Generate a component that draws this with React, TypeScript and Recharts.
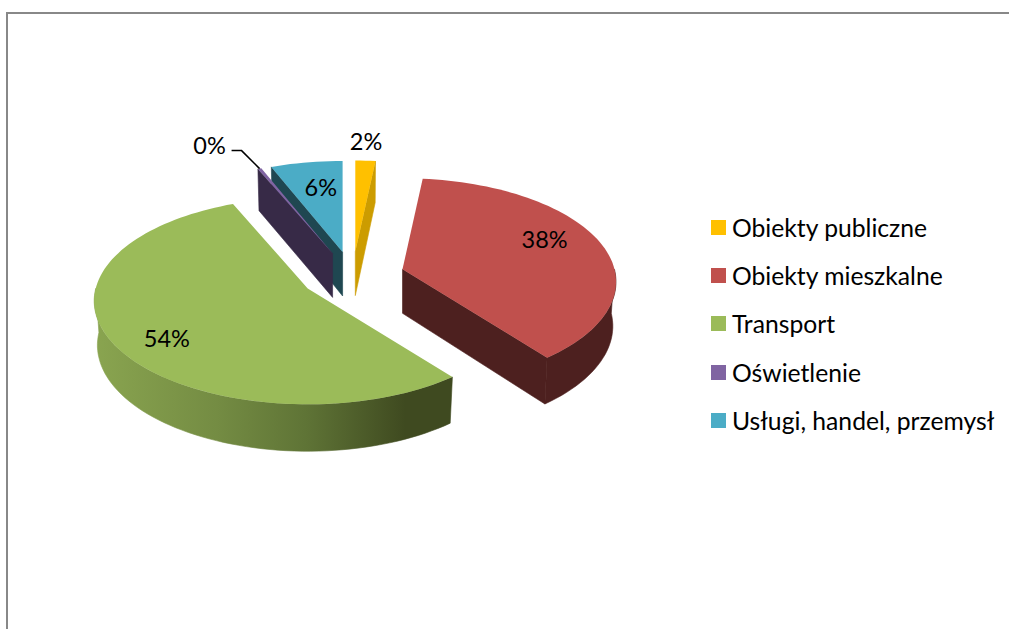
import { Legend, Pie, PieChart } from "recharts";

const names = [
  "Obiekty publiczne",
  "Obiekty mieszkalne",
  "Transport",
  "Oświetlenie",
  "Usługi, handel, przemysł",
];
const shares = [1.7, 37.7, 54.2, 0.3, 6.1];
const topColors = ["#FFC000", "#C0504D", "#9BBB59", "#8064A2", "#4BACC6"];
const wallColors = ["#CC9C00", "#4D201F", "url(#greenWall)", "#372A47", "#1F4751"];

const table = names.map((name, i) => ({
  name,
  value: shares[i],
  fill: topColors[i],
  wall: wallColors[i],
}));

// fake 3D projection of the flat pie
const FONT = "Lato, sans-serif";
const PERSPECTIVE = 0.12;
const TILT = 0.481;
const EXPLODE = 52;
const DEPTH = 44;
const rad = (d: number) => (d * Math.PI) / 180;

function apexOf(cx: number, cy: number, midAngle: number) {
  const t = rad(90 - midAngle);
  return { x: cx + EXPLODE * Math.sin(t), y: cy - EXPLODE * 0.47 * Math.cos(t) };
}

function project(apex: { x: number; y: number }, deg: number, r: number) {
  const t = rad(deg);
  const s = 1 / (1 + PERSPECTIVE * (r === 0 ? 0 : Math.cos(t)));
  return {
    x: apex.x + r * Math.sin(t) * s,
    y: apex.y - r * TILT * Math.cos(t) * s,
    s,
  };
}

const lower = (apex: { x: number; y: number }, p: { x: number; y: number; s: number }) => ({
  x: apex.x + (p.x - apex.x) * 0.985,
  y: p.y + DEPTH * Math.sqrt(p.s),
});

const toPath = (pts: { x: number; y: number }[]) =>
  pts.map((p, i) => `${i ? "L" : "M"}${p.x.toFixed(1)} ${p.y.toFixed(1)}`).join(" ") + " Z";

function sampleArc(apex: { x: number; y: number }, from: number, to: number, r: number) {
  const steps = Math.max(2, Math.ceil((to - from) / 2));
  return Array.from({ length: steps + 1 }, (_, i) =>
    project(apex, from + ((to - from) * i) / steps, r)
  );
}

function Slice(props: any) {
  const { cx, cy, outerRadius: R, startAngle, endAngle, midAngle, fill, payload } = props;
  const wall = payload?.wall ?? props.wall;
  const apex = apexOf(cx, cy, midAngle);
  const from = 90 - startAngle;
  const to = 90 - endAngle;
  const arc = sampleArc(apex, from, to, R);
  const base = { ...apex, s: 1 };

  const walls: string[] = [];
  const a0 = Math.max(from, 90);
  const a1 = Math.min(to, 270);
  if (a1 > a0) {
    const front = sampleArc(apex, a0, a1, R);
    walls.push(toPath([...front, ...front.map((p) => lower(apex, p)).reverse()]));
  }
  const edge = (deg: number) => {
    const p = project(apex, deg, R);
    walls.push(toPath([base, p, lower(apex, p), lower(apex, base)]));
  };
  if (Math.sin(rad(from)) < 0) edge(from);
  if (Math.sin(rad(to)) > 0) edge(to);

  return (
    <g>
      <defs>
        <linearGradient id="greenWall" gradientUnits="userSpaceOnUse" x1="92" y1="0" x2="448" y2="0">
          <stop offset="0" stopColor="#8AA550" />
          <stop offset="0.35" stopColor="#748C43" />
          <stop offset="0.6" stopColor="#5F7436" />
          <stop offset="0.88" stopColor="#3F4A20" />
          <stop offset="1" stopColor="#3F4A20" />
        </linearGradient>
      </defs>
      {walls.map((d, i) => (
        <path key={i} d={d} fill={wall} stroke={wall} strokeWidth={0.6} />
      ))}
      <path d={toPath([base, ...arc])} fill={fill} />
    </g>
  );
}

// blue goes first so the purple wall sits in front of it
const isBack = (p: any) => (p.name ?? p.payload?.name) === names[4];
const BackSlice = (p: any) => (isBack(p) ? <Slice {...p} /> : <g />);
const FrontSlice = (p: any) => (isBack(p) ? <g /> : <Slice {...p} />);

const labelReach = [1.16, 0.68, 0.72, 1, 0.66];
const labelNudgeX = [-1, 8, -1, -50, 2];
const labelNudgeY = [-5, -12, 10, -24, -6];

function PercentLabel(props: any) {
  const { cx, cy, outerRadius: R, midAngle, percent, index } = props;
  const apex = apexOf(cx, cy, midAngle);
  const p = project(apex, 90 - midAngle, R * labelReach[index]);
  const text = `${Math.round(percent * 100)}%`;
  return (
    <g>
      {index === 3 && (
        <path
          d={`M${p.x} ${p.y} L${p.x - 18} ${p.y - 18} L${p.x - 28} ${p.y - 18}`}
          fill="none"
          stroke="#000"
          strokeWidth={1.5}
        />
      )}
      <text
        x={p.x + labelNudgeX[index]}
        y={p.y + labelNudgeY[index]}
        textAnchor="middle"
        dominantBaseline="central"
        fontFamily={FONT}
        fontSize={23.5}
        fill="#000"
      >
        {text}
      </text>
    </g>
  );
}

function LegendList({ payload }: any) {
  const rows = names.map((name) => (payload ?? []).find((item: any) => item.value === name)).filter(Boolean);
  return (
    <div>
      {rows.map((item: any) => (
        <div key={item.value} style={{ display: "flex", alignItems: "center", height: 48.3, whiteSpace: "nowrap" }}>
          <span style={{ width: 15, height: 15, background: item.color, marginRight: 6 }} />
          <span style={{ fontFamily: FONT, fontSize: 24.7, color: "#000" }}>{item.value}</span>
        </div>
      ))}
    </div>
  );
}

export default function App() {
  return (
    <div style={{ position: "absolute", left: 0, top: 0, width: 1009, height: 629, overflow: "hidden", background: "#fff" }}>
      <div style={{ position: "absolute", left: 6, top: 12, right: 0, bottom: 0, borderTop: "2px solid #888", borderLeft: "2px solid #888" }} />
      <PieChart width={1009} height={629} margin={{ top: 0, right: 0, bottom: 0, left: 0 }} style={{ position: "absolute" }}>
        <Pie
          data={table}
          dataKey="value"
          nameKey="name"
          cx={352.5}
          cy={276}
          innerRadius={0}
          outerRadius={212}
          startAngle={90}
          endAngle={-270}
          stroke="none"
          legendType="none"
          shape={BackSlice}
          label={false}
          isAnimationActive={false}
        />
        <Pie
          data={table}
          dataKey="value"
          nameKey="name"
          cx={352.5}
          cy={276}
          innerRadius={0}
          outerRadius={212}
          startAngle={90}
          endAngle={-270}
          stroke="none"
          shape={FrontSlice}
          label={PercentLabel}
          labelLine={false}
          isAnimationActive={false}
        />
        <Legend
          layout="vertical"
          align="right"
          verticalAlign="top"
          content={LegendList}
          wrapperStyle={{ left: 711, top: 203, width: 298, right: "auto" }}
        />
      </PieChart>
    </div>
  );
}
